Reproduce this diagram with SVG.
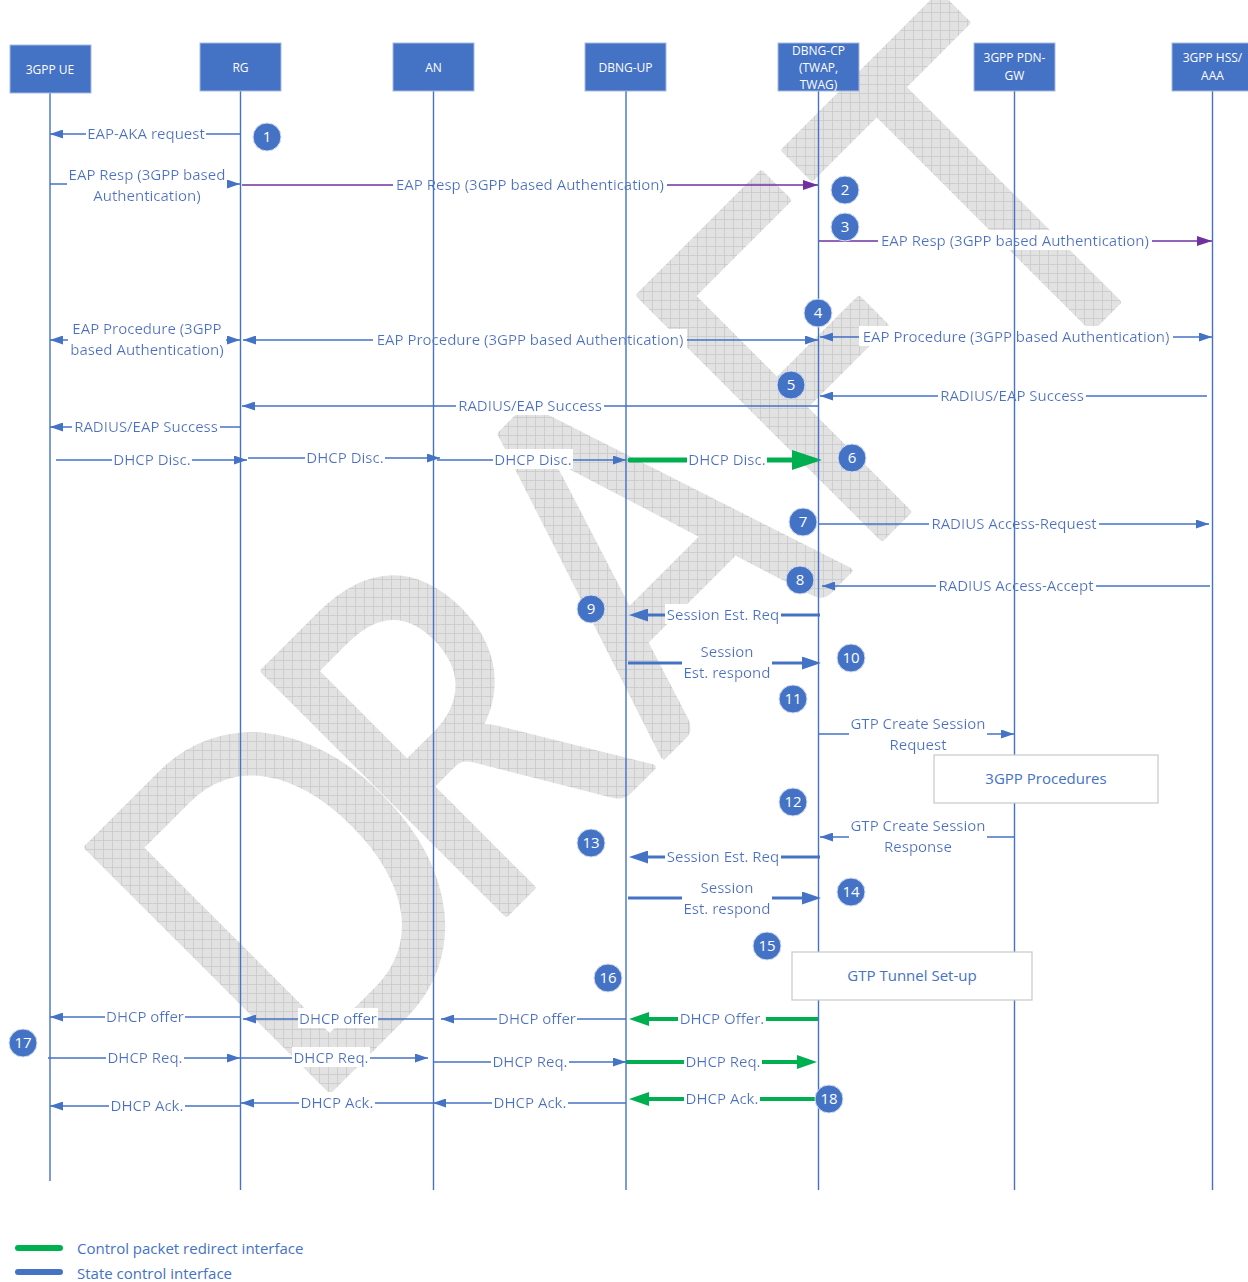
<svg xmlns="http://www.w3.org/2000/svg" width="1248" height="1282" viewBox="0 0 1248 1282">
  <defs>
    <style>
      .hdr { fill: #4472C4; stroke: #a9bbe0; stroke-width: 1; }
      .hdrtxt { fill: #ffffff; font-family: "Open Sans", "Liberation Sans", sans-serif; font-size: 12px; text-anchor: middle; }
      .life { stroke: #4472C4; stroke-width: 1.4; fill: none; }
      .msg { stroke: #4472C4; stroke-width: 1.4; fill: none; }
      .msgp { stroke: #7030A0; stroke-width: 1.4; fill: none; }
      .thick { stroke: #4472C4; stroke-width: 3; fill: none; }
      .green { stroke: #00B050; stroke-width: 4; fill: none; }
      .green5 { stroke: #00B050; stroke-width: 5; fill: none; stroke-linecap: round; }
      .lbl { fill: #4472C4; font-family: "Open Sans", "Liberation Sans", sans-serif; font-size: 15px; text-anchor: middle; filter: url(#bg); }
      .badge circle { fill: #4472C4; stroke: #d6def0; stroke-width: 1; }
      .badge text { fill: #ffffff; font-family: "Open Sans", "Liberation Sans", sans-serif; font-size: 15px; text-anchor: middle; }
      .note rect { fill: #ffffff; stroke: #c8c8c8; stroke-width: 1.2; }
      .note text { fill: #4472C4; font-family: "Open Sans", "Liberation Sans", sans-serif; font-size: 15px; text-anchor: middle; }
      .legend text { fill: #4472C4; font-family: "Open Sans", "Liberation Sans", sans-serif; font-size: 15px; }
    </style>
    <!-- white box behind each message label -->
    <filter id="bg" x="-0.01" y="0" width="1.02" height="1">
      <feFlood flood-color="#ffffff"/>
      <feMerge><feMergeNode/><feMergeNode in="SourceGraphic"/></feMerge>
    </filter>
    <!-- grid fill of the watermark, kept axis-aligned on the page -->
    <pattern id="wmgrid" width="9" height="9" patternUnits="userSpaceOnUse" patternTransform="scale(1.2195 1) rotate(45)">
      <rect width="9" height="9" fill="#e2e2e2"/>
      <path d="M0 0.5 H9 M0.5 0 V9" stroke="#c9c9c9" stroke-width="0.8"/>
    </pattern>
    <marker id="ab" markerUnits="userSpaceOnUse" markerWidth="13" markerHeight="9" refX="13" refY="4.5" orient="auto-start-reverse">
      <path d="M0 0 L13 4.5 L0 9 Z" fill="#4472C4"/>
    </marker>
    <marker id="ap" markerUnits="userSpaceOnUse" markerWidth="15" markerHeight="10" refX="15" refY="5" orient="auto-start-reverse">
      <path d="M0 0 L15 5 L0 10 Z" fill="#7030A0"/>
    </marker>
    <marker id="abig" markerUnits="userSpaceOnUse" markerWidth="19" markerHeight="13" refX="1" refY="6.5" orient="auto">
      <path d="M0 0 L19 6.5 L0 13 Z" fill="#4472C4"/>
    </marker>
    <marker id="ag" markerUnits="userSpaceOnUse" markerWidth="20" markerHeight="14" refX="1" refY="7" orient="auto">
      <path d="M0 0 L20 7 L0 14 Z" fill="#00B050"/>
    </marker>
    <marker id="agbig" markerUnits="userSpaceOnUse" markerWidth="30" markerHeight="20" refX="1" refY="10" orient="auto">
      <path d="M0 0 L30 10 L0 20 Z" fill="#00B050"/>
    </marker>
  </defs>

  <rect width="1248" height="1282" fill="#ffffff"/>

  <!-- watermark -->
  <text id="watermark" transform="translate(328 1092) rotate(-45) scale(0.82 1)" x="-41 263 577 911 1198" y="0" font-family="Lato, 'Open Sans', sans-serif" font-size="479" fill="url(#wmgrid)" stroke="url(#wmgrid)" stroke-width="6" stroke-linejoin="round">DRAFT</text>

  <!-- messages -->
  <g id="connectors">
    <!-- 1 -->
    <line class="msg" x1="240" y1="134" x2="50" y2="134" marker-end="url(#ab)"/>
    <text class="lbl" x="146" y="139">EAP-AKA request</text>
    <!-- 2 -->
    <line class="msg" x1="50" y1="184" x2="240" y2="184" marker-end="url(#ab)"/>
    <text class="lbl" x="147" y="180"><tspan x="147">EAP Resp (3GPP based</tspan><tspan x="147" y="201">Authentication)</tspan></text>
    <line class="msgp" x1="242" y1="185" x2="818" y2="185" marker-end="url(#ap)"/>
    <text class="lbl" x="530" y="190">EAP Resp (3GPP based Authentication)</text>
    <!-- 3 -->
    <line class="msgp" x1="818" y1="241" x2="1212" y2="241" marker-end="url(#ap)"/>
    <text class="lbl" x="1015" y="246">EAP Resp (3GPP based Authentication)</text>
    <!-- 4 -->
    <line class="msg" x1="50" y1="340" x2="240" y2="340" marker-start="url(#ab)" marker-end="url(#ab)"/>
    <text class="lbl" x="147" y="334"><tspan x="147">EAP Procedure (3GPP</tspan><tspan x="147" y="355">based Authentication)</tspan></text>
    <line class="msg" x1="243" y1="340" x2="818" y2="340" marker-start="url(#ab)" marker-end="url(#ab)"/>
    <text class="lbl" x="530" y="345">EAP Procedure (3GPP based Authentication)</text>
    <line class="msg" x1="820" y1="337" x2="1212" y2="337" marker-start="url(#ab)" marker-end="url(#ab)"/>
    <text class="lbl" x="1016" y="342">EAP Procedure (3GPP based Authentication)</text>
    <!-- 5 -->
    <line class="msg" x1="1207" y1="396" x2="820" y2="396" marker-end="url(#ab)"/>
    <text class="lbl" x="1012" y="401">RADIUS/EAP Success</text>
    <line class="msg" x1="818" y1="406" x2="242" y2="406" marker-end="url(#ab)"/>
    <text class="lbl" x="530" y="411">RADIUS/EAP Success</text>
    <line class="msg" x1="240" y1="427" x2="50" y2="427" marker-end="url(#ab)"/>
    <text class="lbl" x="146" y="432">RADIUS/EAP Success</text>
    <!-- 6 -->
    <line class="msg" x1="56" y1="460" x2="247" y2="460" marker-end="url(#ab)"/>
    <text class="lbl" x="152" y="465">DHCP Disc.</text>
    <line class="msg" x1="248" y1="458" x2="440" y2="458" marker-end="url(#ab)"/>
    <text class="lbl" x="345" y="463">DHCP Disc.</text>
    <line class="msg" x1="437" y1="460" x2="626" y2="460" marker-end="url(#ab)"/>
    <text class="lbl" x="533" y="465">DHCP Disc.</text>
    <line class="green5" x1="630" y1="460" x2="793" y2="460" marker-end="url(#agbig)"/>
    <text class="lbl" x="727" y="465">DHCP Disc.</text>
    <!-- 7, 8 -->
    <line class="msg" x1="818" y1="524" x2="1209" y2="524" marker-end="url(#ab)"/>
    <text class="lbl" x="1014" y="529">RADIUS Access-Request</text>
    <line class="msg" x1="1210" y1="586" x2="822" y2="586" marker-end="url(#ab)"/>
    <text class="lbl" x="1016" y="591">RADIUS Access-Accept</text>
    <!-- 9, 10 -->
    <line class="thick" x1="820" y1="615" x2="647" y2="615" marker-end="url(#abig)"/>
    <text class="lbl" x="723" y="620">Session Est. Req</text>
    <line class="thick" x1="628" y1="663" x2="803" y2="663" marker-end="url(#abig)"/>
    <text class="lbl" x="727" y="657"><tspan x="727">Session</tspan><tspan x="727" y="678">Est. respond</tspan></text>
    <!-- 11, 12 -->
    <line class="msg" x1="818" y1="734" x2="1014" y2="734" marker-end="url(#ab)"/>
    <text class="lbl" x="918" y="729"><tspan x="918">GTP Create Session</tspan><tspan x="918" y="750">Request</tspan></text>
    <line class="msg" x1="1014" y1="837" x2="820" y2="837" marker-end="url(#ab)"/>
    <text class="lbl" x="918" y="831"><tspan x="918">GTP Create Session</tspan><tspan x="918" y="852">Response</tspan></text>
    <!-- 13, 14 -->
    <line class="thick" x1="820" y1="857" x2="647" y2="857" marker-end="url(#abig)"/>
    <text class="lbl" x="723" y="862">Session Est. Req</text>
    <line class="thick" x1="628" y1="898" x2="803" y2="898" marker-end="url(#abig)"/>
    <text class="lbl" x="727" y="893"><tspan x="727">Session</tspan><tspan x="727" y="914">Est. respond</tspan></text>
    <!-- 16: offer -->
    <line class="green" x1="818" y1="1019" x2="648" y2="1019" marker-end="url(#ag)"/>
    <text class="lbl" x="722" y="1024">DHCP Offer.</text>
    <line class="msg" x1="626" y1="1019" x2="441" y2="1019" marker-end="url(#ab)"/>
    <text class="lbl" x="537" y="1024">DHCP offer</text>
    <line class="msg" x1="433" y1="1019" x2="243" y2="1019" marker-end="url(#ab)"/>
    <text class="lbl" x="338" y="1024">DHCP offer</text>
    <line class="msg" x1="240" y1="1017" x2="50" y2="1017" marker-end="url(#ab)"/>
    <text class="lbl" x="145" y="1022">DHCP offer</text>
    <!-- 17: request -->
    <line class="msg" x1="48" y1="1058" x2="240" y2="1058" marker-end="url(#ab)"/>
    <text class="lbl" x="145" y="1063">DHCP Req.</text>
    <line class="msg" x1="240" y1="1058" x2="428" y2="1058" marker-end="url(#ab)"/>
    <text class="lbl" x="331" y="1063">DHCP Req.</text>
    <line class="msg" x1="433" y1="1062" x2="626" y2="1062" marker-end="url(#ab)"/>
    <text class="lbl" x="530" y="1067">DHCP Req.</text>
    <line class="green" x1="626" y1="1062" x2="798" y2="1062" marker-end="url(#ag)"/>
    <text class="lbl" x="723" y="1067">DHCP Req.</text>
    <!-- 18: ack -->
    <line class="green" x1="818" y1="1099" x2="648" y2="1099" marker-end="url(#ag)"/>
    <text class="lbl" x="722" y="1104">DHCP Ack.</text>
    <line class="msg" x1="626" y1="1103" x2="433" y2="1103" marker-end="url(#ab)"/>
    <text class="lbl" x="530" y="1108">DHCP Ack.</text>
    <line class="msg" x1="433" y1="1103" x2="241" y2="1103" marker-end="url(#ab)"/>
    <text class="lbl" x="337" y="1108">DHCP Ack.</text>
    <line class="msg" x1="241" y1="1106" x2="50" y2="1106" marker-end="url(#ab)"/>
    <text class="lbl" x="147" y="1111">DHCP Ack.</text>
  </g>

  <!-- participants -->
  <g id="ue">
    <line class="life" x1="50" y1="93" x2="50" y2="1181"/>
    <rect class="hdr" x="10" y="45" width="81" height="48"/>
    <text class="hdrtxt" x="50" y="74">3GPP UE</text>
  </g>
  <g id="rg">
    <line class="life" x1="240.5" y1="91" x2="240.5" y2="1190"/>
    <rect class="hdr" x="200" y="43" width="81" height="48"/>
    <text class="hdrtxt" x="240.5" y="72">RG</text>
  </g>
  <g id="an">
    <line class="life" x1="433.5" y1="91" x2="433.5" y2="1190"/>
    <rect class="hdr" x="393" y="43" width="81" height="48"/>
    <text class="hdrtxt" x="433.5" y="72">AN</text>
  </g>
  <g id="dbng-up">
    <line class="life" x1="626" y1="91" x2="626" y2="1190"/>
    <rect class="hdr" x="585" y="43" width="81" height="48"/>
    <text class="hdrtxt" x="625.5" y="72">DBNG-UP</text>
  </g>
  <g id="dbng-cp">
    <line class="life" x1="818.5" y1="91" x2="818.5" y2="1190"/>
    <rect class="hdr" x="778" y="43" width="81" height="48"/>
    <text class="hdrtxt" x="818.5" y="55"><tspan x="818.5">DBNG-CP</tspan><tspan x="818.5" y="72">(TWAP,</tspan><tspan x="818.5" y="89">TWAG)</tspan></text>
  </g>
  <g id="pdn-gw">
    <line class="life" x1="1014.5" y1="91" x2="1014.5" y2="1190"/>
    <rect class="hdr" x="974" y="43" width="81" height="48"/>
    <text class="hdrtxt" x="1014.5" y="62"><tspan x="1014.5">3GPP PDN-</tspan><tspan x="1014.5" y="80">GW</tspan></text>
  </g>
  <g id="hss-aaa">
    <line class="life" x1="1212.5" y1="91" x2="1212.5" y2="1190"/>
    <rect class="hdr" x="1172" y="43" width="81" height="48"/>
    <text class="hdrtxt" x="1212.5" y="62"><tspan x="1212.5">3GPP HSS/</tspan><tspan x="1212.5" y="80">AAA</tspan></text>
  </g>

  <!-- procedure boxes -->
  <g id="procedures" class="note">
    <rect x="934" y="755" width="224" height="48"/>
    <text x="1046" y="784">3GPP Procedures</text>
  </g>
  <g id="tunnel" class="note">
    <rect x="792" y="952" width="240" height="48"/>
    <text x="912" y="981">GTP Tunnel Set-up</text>
  </g>

  <!-- step numbers -->
  <g id="steps" class="badge">
    <circle cx="267" cy="137" r="14"/><text x="267" y="142">1</text>
    <circle cx="845" cy="190" r="14"/><text x="845" y="195">2</text>
    <circle cx="845" cy="227" r="14"/><text x="845" y="232">3</text>
    <circle cx="818" cy="313" r="14"/><text x="818" y="318">4</text>
    <circle cx="791" cy="385" r="14"/><text x="791" y="390">5</text>
    <circle cx="852" cy="458" r="14"/><text x="852" y="463">6</text>
    <circle cx="803" cy="522" r="14"/><text x="803" y="527">7</text>
    <circle cx="800" cy="580" r="14"/><text x="800" y="585">8</text>
    <circle cx="591" cy="609" r="14"/><text x="591" y="614">9</text>
    <circle cx="851" cy="658" r="14"/><text x="851" y="663">10</text>
    <circle cx="793" cy="699" r="14"/><text x="793" y="704">11</text>
    <circle cx="793" cy="802" r="14"/><text x="793" y="807">12</text>
    <circle cx="591" cy="843" r="14"/><text x="591" y="848">13</text>
    <circle cx="851" cy="892" r="14"/><text x="851" y="897">14</text>
    <circle cx="767" cy="946" r="14"/><text x="767" y="951">15</text>
    <circle cx="608" cy="978" r="14"/><text x="608" y="983">16</text>
    <circle cx="23" cy="1043" r="14"/><text x="23" y="1048">17</text>
    <circle cx="829" cy="1099" r="14"/><text x="829" y="1104">18</text>
  </g>

  <!-- legend -->
  <g id="legend" class="legend">
    <line x1="18" y1="1248" x2="60" y2="1248" stroke="#00B050" stroke-width="6" stroke-linecap="round"/>
    <text x="77" y="1254">Control packet redirect interface</text>
    <line x1="18" y1="1272" x2="60" y2="1272" stroke="#4472C4" stroke-width="6" stroke-linecap="round"/>
    <text x="77" y="1279">State control interface</text>
  </g>
</svg>
